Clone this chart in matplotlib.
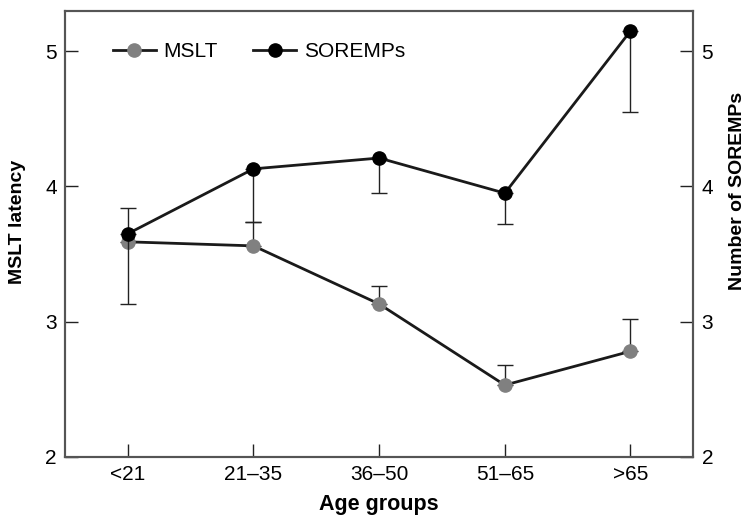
import matplotlib
matplotlib.use("Agg")
import matplotlib.pyplot as plt

plt.rcParams['font.family'] = ['Liberation Sans', 'DejaVu Sans']

# age groups and group means
age_groups = ['<21', '21\u201335', '36\u201350', '51\u201365', '>65']
mslt = [3.59, 3.56, 3.13, 2.53, 2.78]
mslt_err_up = [0.25, 0.18, 0.13, 0.15, 0.24]
soremps = [3.65, 4.13, 4.21, 3.95, 5.15]
soremps_err_down = [0.52, 0.39, 0.26, 0.23, 0.60]

x = list(range(len(age_groups)))

fig = plt.figure(figsize=(7.48, 5.20), dpi=100)
ax1 = fig.add_axes([0.0869, 0.1217, 0.84, 0.8577])
ax2 = ax1.twinx()

grey = '#808080'
ax1.errorbar(x, mslt, yerr=[[0] * len(x), mslt_err_up], fmt='none',
             ecolor='#222222', elinewidth=1.0, capsize=6, capthick=1.0, zorder=2)
l1, = ax1.plot(x, mslt, color='#1a1a1a', lw=2, marker='o', ms=9.5,
               mfc=grey, mec=grey, zorder=3, label='MSLT')

ax2.errorbar(x, soremps, yerr=[soremps_err_down, [0] * len(x)], fmt='none',
             ecolor='#222222', elinewidth=1.0, capsize=6, capthick=1.0, zorder=2)
l2, = ax2.plot(x, soremps, color='#1a1a1a', lw=2, marker='o', ms=9.5,
               mfc='black', mec='black', zorder=3, label='SOREMPs')

for ax in (ax1, ax2):
    ax.set_ylim(2, 5.3)
    ax.set_yticks([2, 3, 4, 5])
    ax.tick_params(axis='both', direction='in', length=9.5, width=1,
                   labelsize=15, color='#222222')
    for s in ax.spines.values():
        s.set_color('#555555')
        s.set_linewidth(1.5)

ax1.set_xlim(-0.5, 4.5)
ax1.set_xticks(x)
ax1.set_xticklabels(age_groups)
ax1.tick_params(axis='x', pad=6)
ax1.tick_params(axis='y', pad=6)
ax2.tick_params(axis='y', pad=6)

ax1.set_xlabel('Age groups', fontsize=15.5, fontweight='bold', labelpad=7)
ax1.set_ylabel('MSLT latency', fontsize=14, fontweight='bold')
ax2.set_ylabel('Number of SOREMPs', fontsize=14, fontweight='bold',
               rotation=90)
ax1.yaxis.set_label_coords(-0.062, 0.526)
ax2.yaxis.set_label_coords(1.057, 0.597)

ax1.legend(handles=[l1, l2], loc='upper left', bbox_to_anchor=(0.046, 0.971),
           ncol=2, frameon=False, fontsize=15, handlelength=2.07,
           columnspacing=1.68, handletextpad=0.38)

fig.savefig('out.png', dpi=100)
